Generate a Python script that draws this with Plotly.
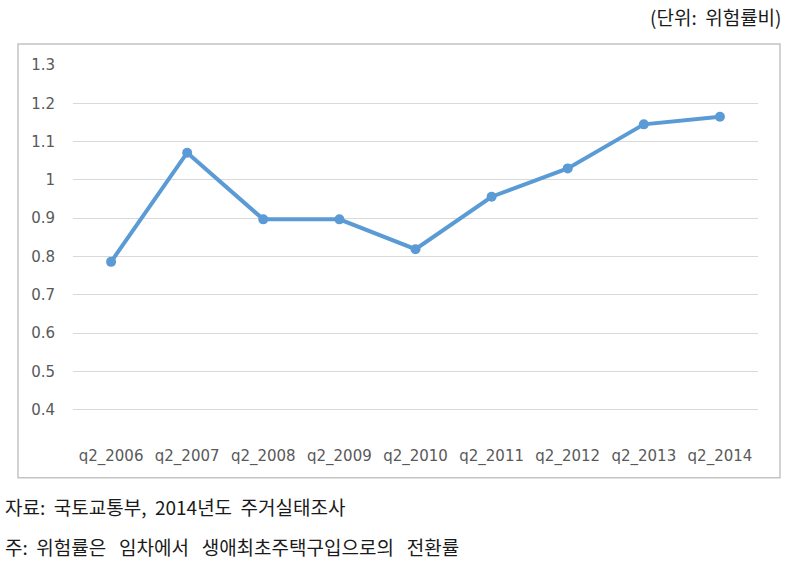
import plotly.graph_objects as go

categories = ["q2_2006", "q2_2007", "q2_2008", "q2_2009", "q2_2010",
              "q2_2011", "q2_2012", "q2_2013", "q2_2014"]
risk_ratio = [0.786, 1.071, 0.897, 0.897, 0.819, 0.956, 1.030, 1.145, 1.165]
y_ticks = [0.4, 0.5, 0.6, 0.7, 0.8, 0.9, 1.0, 1.1, 1.2, 1.3]
y_tick_text = ["0.4", "0.5", "0.6", "0.7", "0.8", "0.9", "1", "1.1", "1.2", "1.3"]

unit_text = "(단위:\u00a0\u00a0위험률비)"
source_text = "자료:\u00a0\u00a0국토교통부,\u00a0\u00a02014년도\u00a0\u00a0주거실태조사"
note_text = "주:\u00a0\u00a0위험률은\u00a0\u00a0\u00a0임차에서\u00a0\u00a0\u00a0생애최초주택구입으로의\u00a0\u00a0\u00a0전환률"

W, H = 791, 575
L, R, T, B = 73, 758, 65, 448.3

def px(x):
    return (x - L) / (R - L)

def py(y):
    return (B - y) / (B - T)

fig = go.Figure()
fig.add_trace(go.Scatter(
    x=categories, y=risk_ratio, mode="lines+markers",
    line=dict(color="#5B9BD5", width=4),
    marker=dict(color="#5B9BD5", size=10),
    showlegend=False, hoverinfo="skip",
))

text_font = dict(family="Noto Sans CJK KR", size=19, color="#1a1a1a")

fig.update_layout(
    width=W, height=H,
    margin=dict(l=L, r=W - R, t=T, b=H - B, pad=0),
    paper_bgcolor="white", plot_bgcolor="white",
    font=dict(family="DejaVu Sans", size=15, color="#595959"),
    xaxis=dict(type="category", showgrid=False, showline=False, zeroline=False,
               ticks="", tickfont=dict(size=15, color="#595959"),
               ticklabelstandoff=-3,
               range=[-0.5, len(categories) - 0.5]),
    yaxis=dict(range=[0.3, 1.3], tickvals=y_ticks, ticktext=y_tick_text,
               showgrid=True, gridcolor="#D9D9D9", gridwidth=1.3,
               zeroline=False, showline=False,
               ticks="outside", ticklen=14, tickcolor="rgba(0,0,0,0)",
               tickfont=dict(size=15, color="#595959")),
    shapes=[dict(type="rect", xref="paper", yref="paper",
                 x0=px(18), x1=px(780), y0=py(478), y1=py(44),
                 line=dict(color="#C4C4C4", width=1.5), fillcolor="rgba(0,0,0,0)",
                 layer="below")],
    annotations=[
        dict(text=unit_text, xref="paper", yref="paper",
             x=px(784), y=py(16), xanchor="right", yanchor="middle",
             showarrow=False, font=text_font),
        dict(text=source_text, xref="paper", yref="paper",
             x=px(3), y=py(507), xanchor="left", yanchor="middle",
             showarrow=False, font=text_font),
        dict(text=note_text, xref="paper", yref="paper",
             x=px(3), y=py(547), xanchor="left", yanchor="middle",
             showarrow=False, font=text_font),
    ],
)

fig.write_html("out.html")
